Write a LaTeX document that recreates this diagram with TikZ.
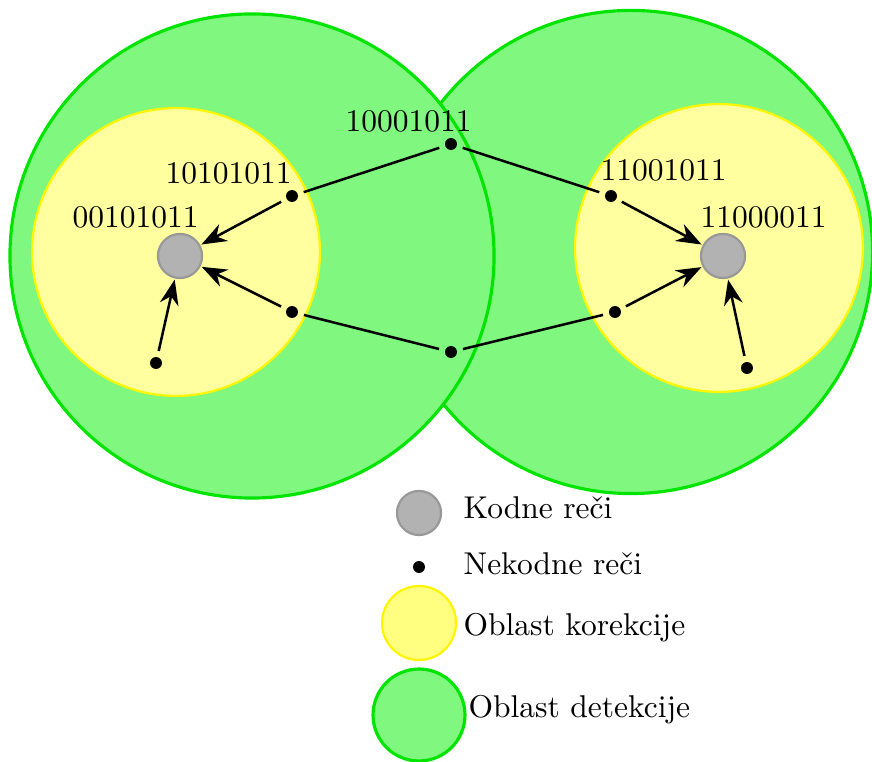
\documentclass[tikz,border=0pt]{standalone}
\usepackage{fontspec}
\usetikzlibrary{arrows.meta}
\definecolor{detfill}{RGB}{128,248,128}
\definecolor{detline}{RGB}{0,228,0}
\definecolor{corfill}{RGB}{255,255,160}
\definecolor{corlegend}{RGB}{255,255,128}
\definecolor{corline}{RGB}{255,245,0}
\definecolor{cwfill}{RGB}{178,178,178}
\definecolor{cwline}{RGB}{152,152,152}
\tikzset{
  detarea/.style={circle,fill=detfill,draw=detline,line width=1pt,inner sep=0pt},
  corarea/.style={circle,fill=corfill,draw=corline,line width=0.7pt,inner sep=0pt},
  codeword/.style={circle,fill=cwfill,draw=cwline,line width=0.7pt,minimum size=14pt,inner sep=0pt,outer sep=0.7pt},
  noncode/.style={circle,fill=black,minimum size=3.8pt,inner sep=0pt,outer sep=2pt},
  link/.style={thick},
  decode/.style={thick,-{Stealth[length=8pt,width=6pt,inset=2.6pt]}},
  lbl/.style={inner sep=0pt,anchor=base west},
}
\begin{document}
\begin{tikzpicture}[x=0.3175pt,y=-0.3175pt]
\useasboundingbox (0,0) rectangle (872,762);
% detection regions (right one first, the left one overlaps it)
\node[detarea,minimum size=153.4pt] (detR) at (631,252) {};
\node[detarea,minimum size=153.7pt] (detL) at (252,256) {};
% correction regions
\node[corarea,minimum size=91.4pt] (corL) at (176,252) {};
\node[corarea,minimum size=91.4pt] (corR) at (719,248) {};
% code words
\node[codeword] (cwL) at (180,256) {};
\node[codeword] (cwR) at (723,256) {};
% non-code words
\node[noncode] (a1) at (292,196) {};
\node[noncode] (a2) at (292,312) {};
\node[noncode] (a3) at (156,363) {};
\node[noncode] (m1) at (451,144) {};
\node[noncode] (m2) at (451,352) {};
\node[noncode] (b1) at (611,196) {};
\node[noncode] (b2) at (615,312) {};
\node[noncode] (b3) at (747,368) {};
% paths between the two code words
\draw[link] (a1) -- (m1) -- (b1);
\draw[link] (a2) -- (m2) -- (b2);
% decoding to the nearest code word
\draw[decode] (a1) -- (cwL);
\draw[decode] (a2) -- (cwL);
\draw[decode] (a3) -- (cwL);
\draw[decode] (b1) -- (cwR);
\draw[decode] (b2) -- (cwR);
\draw[decode] (b3) -- (cwR);
% word labels
\node[lbl] (tm1) at (345,132) {10001011};
\node[lbl] (ta1) at (165,184) {10101011};
\node[lbl] (tcL) at (72,228) {00101011};
\node[lbl] (tb1) at (600,181) {11001011};
\node[lbl] (tcR) at (700,228) {11000011};
% legend
\node[codeword] (lg1) at (419,513) {};
\node[noncode] (lg2) at (419,567) {};
\node[corarea,fill=corlegend,minimum size=23.5pt] (lg3) at (419,623) {};
\node[detarea,minimum size=29.2pt] (lg4) at (419,715) {};
\node[lbl] (lt1) at (463,519) {Kodne reči};
\node[lbl] (lt2) at (463,575) {Nekodne reči};
\node[lbl] (lt3) at (463,636) {Oblast korekcije};
\node[lbl] (lt4) at (468,718) {Oblast detekcije};
\end{tikzpicture}
\end{document}
